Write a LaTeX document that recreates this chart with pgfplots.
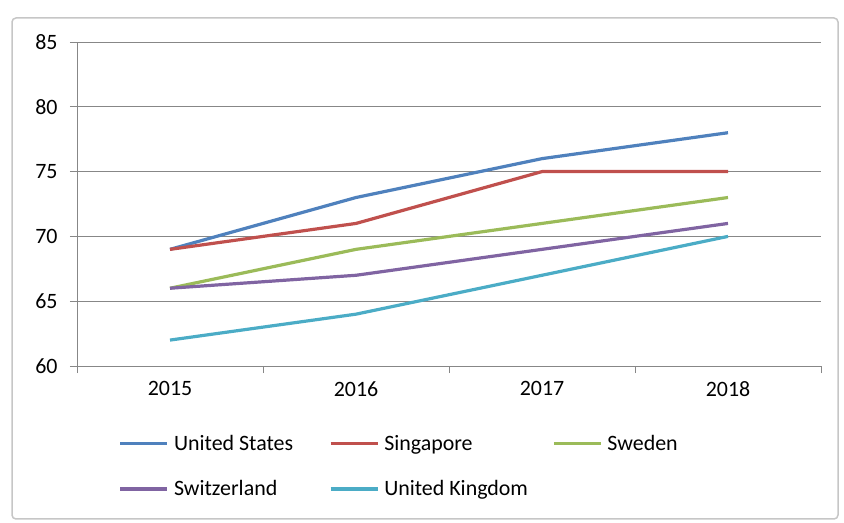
\documentclass[border=0pt]{standalone}
\usepackage{fontspec}
\setmainfont{Carlito}
\usepackage{pgfplots}
\pgfplotsset{compat=1.18}
\definecolor{xlblue}{HTML}{4F81BD}
\definecolor{xlred}{HTML}{C0504D}
\definecolor{xlgreen}{HTML}{9BBB59}
\definecolor{xlpurple}{HTML}{8064A2}
\definecolor{xlcyan}{HTML}{4BACC6}
\definecolor{xlgrid}{HTML}{878787}
\begin{document}
\begin{tikzpicture}
\path[use as bounding box] (0,0) rectangle (844bp,523bp);
\draw[gray!45, line width=1.5bp, rounded corners=4bp] (12bp,4bp) rectangle (838bp,505bp);
\begin{axis}[
  at={(77bp,157bp)}, anchor=south west,
  scale only axis, width=744bp, height=324bp,
  font=\fontsize{22}{26}\selectfont,
  /pgf/number format/assume math mode=true,
  xmin=-0.5, xmax=3.5, ymin=60, ymax=85,
  xtick={0,1,2,3}, xticklabels={2015,2016,2017,2018},
  major x tick style={draw=none},
  minor xtick={-0.5,0.5,1.5,2.5,3.5},
  minor x tick style={xlgrid, line width=0.8bp},
  minor tick length=7bp,
  ytick={60,65,...,85},
  major y tick style={xlgrid, line width=0.8bp},
  major tick length=7bp,
  tick align=outside,
  xtick pos=bottom, ytick pos=left,
  axis x line*=bottom, axis y line*=left,
  axis line style={xlgrid, line width=0.8bp, -},
  ymajorgrids, grid style={xlgrid, line width=0.8bp},
  xticklabel style={yshift=-5bp},
  yticklabel style={xshift=-9bp},
  legend columns=3,
  legend style={draw=none, fill=none, at={(0.052,-0.2)}, anchor=north west,
    font=\fontsize{22}{26}\selectfont, column sep=0bp, row sep=25bp,
    nodes={inner xsep=5bp}},
  legend cell align=left,
  legend image code/.code={\draw[#1, line width=3.2bp] (0bp,0bp) -- (47bp,0bp);},
  every axis plot/.append style={line width=3.2bp},
]
\addplot[xlblue] coordinates {(0,69) (1,73) (2,76) (3,78)};
\addlegendentry{\makebox[150bp][l]{United States}}
\addplot[xlred] coordinates {(0,69) (1,71) (2,75) (3,75)};
\addlegendentry{\makebox[163bp][l]{Singapore}}
\addplot[xlgreen] coordinates {(0,66) (1,69) (2,71) (3,73)};
\addlegendentry{Sweden}
\addplot[xlpurple] coordinates {(0,66) (1,67) (2,69) (3,71)};
\addlegendentry{\makebox[150bp][l]{Switzerland}}
\addplot[xlcyan] coordinates {(0,62) (1,64) (2,67) (3,70)};
\addlegendentry{\makebox[163bp][l]{United Kingdom}}
\end{axis}
\end{tikzpicture}
\end{document}
